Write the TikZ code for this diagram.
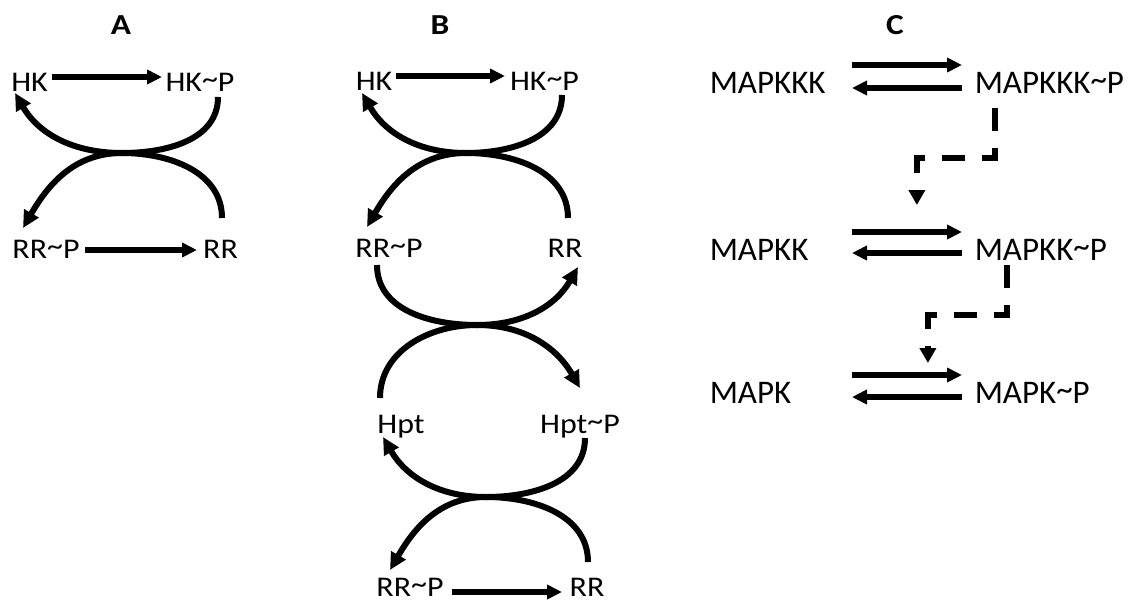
\documentclass[tikz,border=0pt]{standalone}
\usepackage{fontspec}
\setmainfont{Carlito}
\newfontfamily\molfont{Carlito}[FakeStretch=1.12]
\newfontfamily\labfont{Carlito}[FakeStretch=1.15]
\usetikzlibrary{arrows.meta,positioning}

\newcommand{\tP}{\raisebox{0.08em}{\textasciitilde}P}

\begin{document}
\begin{tikzpicture}[->, >={Triangle[length=15pt,width=14pt]}, line width=5.5pt, x=1pt, y=-1pt]
\tikzstyle{mol}=[font=\molfont\fontsize{28.5}{34}\selectfont, inner sep=0pt, anchor=base]
\tikzstyle{kin}=[font=\fontsize{33}{40}\selectfont, inner sep=0pt, anchor=base west]
\tikzstyle{panel}=[font=\labfont\fontsize{29}{34}\selectfont\bfseries, inner sep=0pt, anchor=base]
\tikzstyle{curve}=[line width=6pt, >={Triangle[length=17pt,width=16pt]}]
\tikzstyle{phos}=[line width=5.5pt, dash pattern=on 23pt off 17pt, >={Triangle[length=15pt,width=16pt]}]

\useasboundingbox (0,0) rectangle (1133,603);

\node[panel]	(labA)	at (121,34)	{A};
\node[panel]	(labB)	at (440,34)	{B};
\node[panel]	(labC)	at (895,34)	{C};

% two-component system
\node[mol]	(hkA)	at (29.5,91)	{HK};
\node[mol]	(hkpA)	at (200,91)	{HK\tP};
\node[mol]	(rrpA)	at (46,258)	{RR\tP};
\node[mol]	(rrA)	at (220.5,258)	{RR};
\coordinate	(kissA)	at (122,153);

% phosphorelay
\node[mol]	(hkB)	at (374,90)	{HK};
\node[mol]	(hkpB)	at (544.5,90)	{HK\tP};
\node[mol]	(rrpB)	at (389,257)	{RR\tP};
\node[mol]	(rrB)	at (565,257)	{RR};
\node[mol]	(hptB)	at (401,433)	{Hpt};
\node[mol]	(hptpB)	at (580,433)	{Hpt\tP};
\node[mol]	(rrpBB)	at (410,596)	{RR\tP};
\node[mol]	(rrBB)	at (587,596)	{RR};
\coordinate	(kissB1)	at (466,153);
\coordinate	(kissB2)	at (477,325);
\coordinate	(kissB3)	at (486,497);

% MAP kinase cascade
\node[kin]	(kkkC)	at (707,93)	{MAPKKK};
\node[kin]	(kkkpC)	at (972,93)	{MAPKKK\tP};
\node[kin]	(kkC)	at (707,260)	{MAPKK};
\node[kin]	(kkpC)	at (972,260)	{MAPKK\tP};
\node[kin]	(kC)	at (707,403)	{MAPK};
\node[kin]	(kpC)	at (972,403)	{MAPK\tP};

\path
	([shift={(22.5,-14)}]hkA.base)	edge	([shift={(-38,-14)}]hkpA.base)
	([shift={(39,-8)}]rrpA.base)	edge	([shift={(-23.5,-8)}]rrA.base)
	([shift={(22,-14)}]hkB.base)	edge	([shift={(-39.5,-14)}]hkpB.base)
	([shift={(42,-4)}]rrpBB.base)	edge	([shift={(-25,-4)}]rrBB.base)
;

\draw[curve] ([shift={(18,6)}]hkpA.base) to[out=-90, in=0] (kissA) to[out=180, in=-60] ([shift={(-14.5,2)}]hkA.base);
\draw[curve] ([shift={(1.5,-40)}]rrA.base) to[out=90, in=0] (kissA) to[out=180, in=60] ([shift={(-23,-30)}]rrpA.base);

\draw[curve] ([shift={(17.5,5)}]hkpB.base) to[out=-90, in=0] (kissB1) to[out=180, in=-60] ([shift={(-12,3)}]hkB.base);
\draw[curve] ([shift={(3,-39)}]rrB.base) to[out=90, in=0] (kissB1) to[out=180, in=60] ([shift={(-22,-30)}]rrpB.base);
\draw[curve] ([shift={(-12,8)}]rrpB.base) to[out=-90, in=180] (kissB2) to[out=0, in=-120] ([shift={(13,10)}]rrB.base);
\draw[curve] ([shift={(-21,-35)}]hptB.base) to[out=90, in=180] (kissB2) to[out=0, in=120] ([shift={(0,-45)}]hptpB.base);
\draw[curve] ([shift={(5,5)}]hptpB.base) to[out=-90, in=0] (kissB3) to[out=180, in=-60] ([shift={(-18,4)}]hptB.base);
\draw[curve] ([shift={(1,-34)}]rrBB.base) to[out=90, in=0] (kissB3) to[out=180, in=60] ([shift={(-20,-26)}]rrpBB.base);

\path
	([shift={(145,-28)}]kkkC.base west)	edge	([shift={(-10,-28)}]kkkpC.base west)
	([shift={(-10,-5)}]kkkpC.base west)	edge	([shift={(145,-5)}]kkkC.base west)
	([shift={(145,-28)}]kkC.base west)	edge	node[coordinate, pos=.59, yshift=27pt] (kkon) {}	([shift={(-10,-28)}]kkpC.base west)
	([shift={(-10,-7)}]kkpC.base west)	edge	([shift={(145,-7)}]kkC.base west)
	([shift={(145,-28)}]kC.base west)	edge	node[coordinate, pos=.69, yshift=12pt] (kon) {}	([shift={(-10,-28)}]kpC.base west)
	([shift={(-10,-6)}]kpC.base west)	edge	([shift={(145,-6)}]kC.base west)
;

\draw[phos] ([shift={(23,15)}]kkkpC.base west) -- ++(0,50) -| (kkon);
\draw[phos] ([shift={(35,5)}]kkpC.base west) -- ++(0,50) -| (kon);

\end{tikzpicture}
\end{document}
